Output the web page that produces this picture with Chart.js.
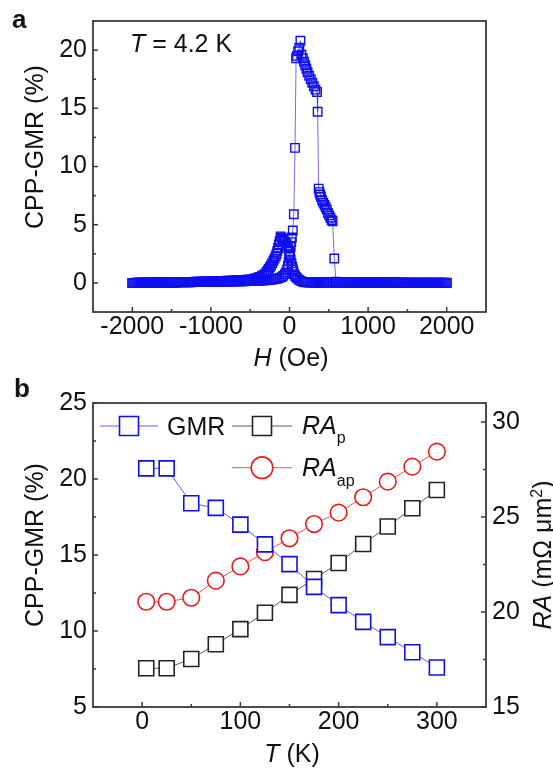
<!DOCTYPE html>
<html><head><meta charset="utf-8">
<script src="https://cdn.jsdelivr.net/npm/chart.js@4.4.1/dist/chart.umd.min.js"></script>
<style>
html,body{margin:0;padding:0;background:#fff;}
#wrap{position:relative;width:553px;height:769px;overflow:hidden;background:#fff;}
canvas{position:absolute;left:0;}
#ca{top:0;width:553px;height:373px;}
#cb{top:373px;width:553px;height:396px;}
</style></head><body>
<div id="wrap"><canvas id="ca" width="553" height="373"></canvas><canvas id="cb" width="553" height="396"></canvas></div>
<script>
// ---------- Panel a data: CPP-GMR (%) vs H (Oe) at T = 4.2 K ----------
const fieldUp = [-2000,-1975,-1950,-1925,-1900,-1875,-1850,-1825,-1800,-1775,-1750,-1725,-1700,-1675,-1650,-1625,-1600,-1575,-1550,-1525,
-1500,-1475,-1450,-1425,-1400,-1375,-1350,-1325,-1300,-1275,-1250,-1225,-1200,-1175,-1150,-1125,-1100,-1075,-1050,-1025,
-1000,-975,-950,-925,-900,-875,-850,-825,-800,-775,-750,-725,-700,-675,-650,-625,-600,-575,-550,-525,
-500,-475,-450,-425,-400,-375,-350,-325,-300,-275,-250,-225,-200,-175,-150,-125,-100,-80,-60,-45,-30,-20,-10,
0,8,15,22,30,42,55,70,84,95,110,125,139,152,169,185,200,215,230,250,270,290,310,330,350,358,371,
380,390,400,415,430,445,460,475,490,505,520,535,548,570,592,
625,650,675,700,725,750,775,800,825,850,875,900,925,950,975,1000,1025,1050,1075,1100,1125,1150,1175,1200,
1225,1250,1275,1300,1325,1350,1375,1400,1425,1450,1475,1500,1525,1550,1575,1600,
1625,1650,1675,1700,1725,1750,1775,1800,1825,1850,1875,1900,1925,1950,1975,2000];
const gmrUp = [0.00,0.00,0.00,0.01,0.01,0.01,0.01,0.01,0.02,0.02,0.02,0.02,0.02,0.03,0.03,0.03,0.03,0.03,0.04,0.04,
0.04,0.04,0.04,0.05,0.05,0.05,0.05,0.06,0.06,0.06,0.06,0.07,0.07,0.07,0.07,0.08,0.08,0.08,0.08,0.09,
0.09,0.09,0.10,0.10,0.10,0.10,0.11,0.11,0.11,0.12,0.12,0.12,0.13,0.13,0.13,0.14,0.14,0.14,0.15,0.15,
0.16,0.16,0.17,0.18,0.19,0.20,0.21,0.22,0.23,0.25,0.27,0.29,0.31,0.34,0.38,0.43,0.50,0.60,0.75,0.90,1.15,1.45,1.85,
2.30,2.70,3.10,3.50,3.90,4.50,5.90,11.6,19.3,19.5,19.9,20.2,20.8,19.6,19.3,19.0,18.7,18.4,18.1,17.8,17.5,17.2,16.9,16.6,16.4,14.7,8.1,
7.8,7.6,7.4,7.1,6.9,6.7,6.5,6.3,6.0,5.8,5.6,5.4,5.3,2.1,0.1,
0.05,0.05,0.05,0.05,0.04,0.04,0.04,0.04,0.04,0.04,0.04,0.04,0.03,0.03,0.03,0.03,0.03,0.03,0.03,0.03,0.03,0.03,0.03,0.03,
0.02,0.02,0.02,0.02,0.02,0.02,0.02,0.02,0.02,0.02,0.02,0.02,0.02,0.02,0.02,0.02,
0.01,0.01,0.01,0.01,0.01,0.01,0.01,0.01,0.01,0.01,0.01,0.01,0.01,0.01,0.01,0.01];
const fieldDown = [2000,1975,1950,1925,1900,1875,1850,1825,1800,1775,1750,1725,1700,1675,1650,1625,1600,1575,1550,1525,1500,
1475,1450,1425,1400,1375,1350,1325,1300,1275,1250,1225,1200,1175,1150,1125,1100,1075,1050,1025,1000,
975,950,925,900,875,850,825,800,775,750,725,700,675,650,625,600,
575,550,525,500,475,450,425,400,375,350,325,300,275,250,225,
200,175,150,125,100,85,70,60,50,43,35,25,15,5,-5,-15,-30,-45,-60,-75,-90,-103,-114,
-125,-135,-145,-155,-165,-175,-190,-205,-220,-235,-250,-265,-280,-295,-320,-350,-380,-410,-440,-470,-500,
-525,-550,-575,-600,-625,-650,-675,-700,-725,-750,-775,-800,-825,-850,-875,-900,-925,-950,-975,-1000,
-1025,-1050,-1075,-1100,-1125,-1150,-1175,-1200,-1225,-1250,-1275,-1300,-1325,-1350,-1375,-1400,-1425,-1450,-1475,-1500,
-1525,-1550,-1575,-1600,-1625,-1650,-1675,-1700,-1725,-1750,-1775,-1800,-1825,-1850,-1875,-1900,-1925,-1950,-1975,-2000];
const gmrDown = [0.00,0.00,0.00,0.00,0.00,0.00,0.00,0.00,0.00,0.00,0.00,0.00,0.00,0.00,0.00,0.00,0.00,0.00,0.00,0.00,0.00,
0.01,0.01,0.01,0.01,0.01,0.01,0.01,0.01,0.01,0.01,0.01,0.01,0.01,0.01,0.01,0.01,0.01,0.01,0.01,0.01,
0.02,0.02,0.02,0.02,0.02,0.02,0.02,0.02,0.02,0.02,0.02,0.02,0.02,0.02,0.02,0.02,
0.03,0.03,0.03,0.03,0.03,0.03,0.03,0.03,0.04,0.04,0.04,0.04,0.04,0.04,0.05,
0.06,0.08,0.15,0.25,0.38,0.50,0.62,0.75,0.95,1.15,1.40,1.70,2.00,2.40,2.70,2.95,3.20,3.40,3.55,3.70,3.80,3.90,4.00,
3.60,3.30,3.00,2.75,2.50,2.30,2.10,1.90,1.70,1.50,1.35,1.20,1.05,0.90,0.75,0.62,0.52,0.45,0.39,0.34,0.30,
0.28,0.27,0.26,0.25,0.24,0.23,0.22,0.21,0.20,0.19,0.19,0.18,0.17,0.17,0.16,0.15,0.15,0.14,0.14,0.13,
0.13,0.12,0.12,0.11,0.11,0.10,0.10,0.10,0.09,0.09,0.08,0.08,0.08,0.07,0.07,0.07,0.06,0.06,0.06,0.05,
0.05,0.05,0.04,0.04,0.04,0.04,0.03,0.03,0.03,0.03,0.02,0.02,0.02,0.02,0.01,0.01,0.01,0.01,0.00,0.00];
const hTicks = [-2000,-1000,0,1000,2000];
const hMinor = [-1500,-500,500,1500];
const gmrTicksA = [0,5,10,15,20];
const gmrMinorA = [2.5,7.5,12.5,17.5];

// ---------- Panel b data: vs temperature T (K) ----------
const tempK = [4.2,25,50,75,100,125,150,175,200,225,250,275,300];
const gmrT  = [20.7,20.7,18.4,18.1,17.0,15.7,14.4,12.9,11.7,10.6,9.6,8.6,7.6];
const raP   = [17.04,17.04,17.53,18.3,19.1,19.96,20.9,21.74,22.58,23.58,24.5,25.46,26.42];
const raAP  = [20.54,20.54,20.75,21.65,22.4,23.15,23.88,24.63,25.23,26.04,26.86,27.65,28.44];
const tTicks = [0,100,200,300];
const tMinor = [50,150,250];
const gmrTicksB = [5,10,15,20,25];
const gmrMinorB = [7.5,12.5,17.5,22.5];
const raTicks = [15,20,25,30];
const raMinor = [17.5,22.5,27.5];

// ---------- styling ----------
const FAM = '"Liberation Sans", Arial, Helvetica, sans-serif';
const BLUE = 'rgb(15,15,240)';
const BLUE_LINE = 'rgba(40,40,230,0.75)';
const RED = 'rgb(235,25,25)';
const RED_LINE = 'rgba(235,40,40,0.8)';
const BLACK = 'rgb(35,35,35)';
const BLACK_LINE = 'rgba(50,50,50,0.8)';
const TXT = '#111';
Chart.defaults.font.family = FAM;
Chart.defaults.font.size = 25;
Chart.defaults.color = TXT;

function fontOf(p){ return (p.italic?'italic ':'') + (p.bold?'bold ':'') + (p.size||25) + 'px ' + FAM; }
function drawRich(ctx, parts, x, y, align){
  let w = 0;
  parts.forEach(p => { ctx.font = fontOf(p); p._w = ctx.measureText(p.t).width; w += p._w + (p.dx||0); });
  let cx = align === 'center' ? x - w/2 : x;
  ctx.textAlign = 'left'; ctx.textBaseline = 'alphabetic';
  parts.forEach(p => { ctx.font = fontOf(p); ctx.fillText(p.t, cx + (p.dx||0), y + (p.dy||0)); cx += p._w + (p.dx||0); });
}
function frameTicks(chart, axes){
  const ctx = chart.ctx, a = chart.chartArea;
  ctx.save();
  ctx.strokeStyle = '#3a3a3a'; ctx.lineWidth = 1.8;
  ctx.strokeRect(a.left, a.top, a.right - a.left, a.bottom - a.top);
  ctx.lineWidth = 1.5;
  axes.forEach(ax => {
    const s = chart.scales[ax.id];
    const draw = (v, len) => {
      const p = s.getPixelForValue(v);
      ctx.beginPath();
      if (ax.side === 'bottom') { ctx.moveTo(p, a.bottom); ctx.lineTo(p, a.bottom - len); }
      else if (ax.side === 'left') { ctx.moveTo(a.left, p); ctx.lineTo(a.left + len, p); }
      else { ctx.moveTo(a.right, p); ctx.lineTo(a.right - len, p); }
      ctx.stroke();
    };
    ax.major.forEach(v => draw(v, 5));
    ax.minor.forEach(v => draw(v, 3));
  });
  ctx.restore();
}
const fixTicks = arr => (s => { s.ticks = arr.map(v => ({value: v})); });
const baseScale = {
  grid: {display: false, drawTicks: false},
  border: {display: false},
};
function pts(xs, ys){ return xs.map((x, i) => ({x: x, y: ys[i]})); }

// ---------- Chart a ----------
const decoA = {
  id: 'decoA',
  afterDraw(chart){
    frameTicks(chart, [
      {id: 'x', side: 'bottom', major: hTicks, minor: hMinor},
      {id: 'y', side: 'left', major: gmrTicksA, minor: gmrMinorA}
    ]);
    const ctx = chart.ctx;
    ctx.save();
    ctx.fillStyle = TXT;
    drawRich(ctx, [{t: 'a', bold: true, size: 26}], 12, 28, 'left');
    drawRich(ctx, [{t: 'T', italic: true}, {t: ' = 4.2 K'}], 130, 51.5, 'left');
    drawRich(ctx, [{t: 'H', italic: true}, {t: ' (Oe)'}], 291, 366, 'center');
    ctx.translate(43, 147); ctx.rotate(-Math.PI/2);
    drawRich(ctx, [{t: 'CPP-GMR (%)'}], 0, 0, 'center');
    ctx.restore();
  }
};
const sweepStyle = {
  showLine: true, borderColor: BLUE_LINE, borderWidth: 0.9,
  pointStyle: 'rect', pointRadius: 6, pointBorderColor: BLUE,
  pointBackgroundColor: 'rgba(255,255,255,0)', pointBorderWidth: 1.4
};
new Chart(document.getElementById('ca'), {
  type: 'scatter',
  data: { datasets: [
    Object.assign({label: 'up', data: pts(fieldUp, gmrUp)}, sweepStyle),
    Object.assign({label: 'down', data: pts(fieldDown, gmrDown)}, sweepStyle)
  ]},
  options: {
    responsive: false, animation: false, devicePixelRatio: 1, events: [],
    layout: {padding: {left: 0, right: 67, top: 8, bottom: 0}},
    plugins: {legend: {display: false}, tooltip: {enabled: false}},
    scales: {
      x: Object.assign({}, baseScale, {type: 'linear', min: -2500, max: 2500,
        afterFit: s => { s.height = 61; }, afterBuildTicks: fixTicks(hTicks),
        ticks: {padding: 0, maxRotation: 0, autoSkip: false, callback: v => String(v)}}),
      y: Object.assign({}, baseScale, {type: 'linear', min: -2.5, max: 22.5,
        afterFit: s => { s.width = 93; }, afterBuildTicks: fixTicks(gmrTicksA),
        ticks: {padding: 6, autoSkip: false, callback: v => String(v)}})
    }
  },
  plugins: [decoA]
});

// ---------- Chart b ----------
const decoB = {
  id: 'decoB',
  afterDraw(chart){
    frameTicks(chart, [
      {id: 'x', side: 'bottom', major: tTicks, minor: tMinor},
      {id: 'y', side: 'left', major: gmrTicksB, minor: gmrMinorB},
      {id: 'y2', side: 'right', major: raTicks, minor: raMinor}
    ]);
    const ctx = chart.ctx;
    ctx.save();
    ctx.fillStyle = TXT;
    drawRich(ctx, [{t: 'b', bold: true, size: 26}], 14, 23.7, 'left');
    // legend
    const leg = (x0, x1, y, kind, col, lcol) => {
      ctx.strokeStyle = lcol; ctx.lineWidth = 1;
      ctx.beginPath(); ctx.moveTo(x0, y); ctx.lineTo(x1, y); ctx.stroke();
      const cx = (x0 + x1) / 2;
      ctx.fillStyle = '#fff'; ctx.strokeStyle = col; ctx.lineWidth = 1.6;
      ctx.beginPath();
      if (kind === 'rect') ctx.rect(cx - 9.5, y - 9.5, 19, 19);
      else ctx.arc(cx, y, 10.8, 0, Math.PI * 2);
      ctx.fill(); ctx.stroke();
    };
    leg(100, 158, 53, 'rect', BLUE, BLUE_LINE);
    leg(232, 292, 53, 'rect', BLACK, BLACK_LINE);
    leg(232, 292, 94.7, 'circle', RED, RED_LINE);
    ctx.fillStyle = TXT;
    drawRich(ctx, [{t: 'GMR'}], 167, 62, 'left');
    drawRich(ctx, [{t: 'RA', italic: true}, {t: 'p', size: 16, dy: 9}], 302, 61, 'left');
    drawRich(ctx, [{t: 'RA', italic: true}, {t: 'ap', size: 16, dy: 10}], 302, 103, 'left');
    drawRich(ctx, [{t: 'T', italic: true}, {t: ' (K)'}], 292, 388.7, 'center');
    ctx.save();
    ctx.translate(43, 172); ctx.rotate(-Math.PI/2);
    drawRich(ctx, [{t: 'CPP-GMR (%)'}], 0, 0, 'center');
    ctx.restore();
    ctx.save();
    ctx.translate(551, 182); ctx.rotate(-Math.PI/2);
    drawRich(ctx, [{t: 'RA', italic: true}, {t: ' (mΩ μm'}, {t: '2', size: 16, dy: -9}, {t: ')'}], 0, 0, 'center');
    ctx.restore();
    ctx.restore();
  }
};
new Chart(document.getElementById('cb'), {
  type: 'scatter',
  data: { datasets: [
    {label: 'GMR', data: pts(tempK, gmrT), yAxisID: 'y', showLine: true,
     borderColor: BLUE_LINE, borderWidth: 1, pointStyle: 'rect', pointRadius: 10.6,
     pointBorderColor: BLUE, pointBackgroundColor: '#fff', pointBorderWidth: 1.6},
    {label: 'RAp', data: pts(tempK, raP), yAxisID: 'y2', showLine: true,
     borderColor: BLACK_LINE, borderWidth: 1, pointStyle: 'rect', pointRadius: 10.6,
     pointBorderColor: BLACK, pointBackgroundColor: '#fff', pointBorderWidth: 1.6},
    {label: 'RAap', data: pts(tempK, raAP), yAxisID: 'y2', showLine: true,
     borderColor: RED_LINE, borderWidth: 1, pointStyle: 'circle', pointRadius: 8.3,
     pointBorderColor: RED, pointBackgroundColor: '#fff', pointBorderWidth: 1.6}
  ]},
  options: {
    responsive: false, animation: false, devicePixelRatio: 1, events: [],
    layout: {padding: {left: 0, right: 0, top: 30, bottom: 0}},
    plugins: {legend: {display: false}, tooltip: {enabled: false}},
    scales: {
      x: Object.assign({}, baseScale, {type: 'linear', min: -50, max: 350,
        afterFit: s => { s.height = 62; }, afterBuildTicks: fixTicks(tTicks),
        ticks: {padding: 0, maxRotation: 0, autoSkip: false, callback: v => String(v)}}),
      y: Object.assign({}, baseScale, {type: 'linear', position: 'left', min: 5, max: 25,
        afterFit: s => { s.width = 93; }, afterBuildTicks: fixTicks(gmrTicksB),
        ticks: {padding: 6, autoSkip: false, callback: v => String(v)}}),
      y2: Object.assign({}, baseScale, {type: 'linear', position: 'right', min: 15, max: 31,
        afterFit: s => { s.width = 67; }, afterBuildTicks: fixTicks(raTicks),
        ticks: {padding: 6, autoSkip: false, callback: v => String(v)}})
    }
  },
  plugins: [decoB]
});
</script>
</body></html>
